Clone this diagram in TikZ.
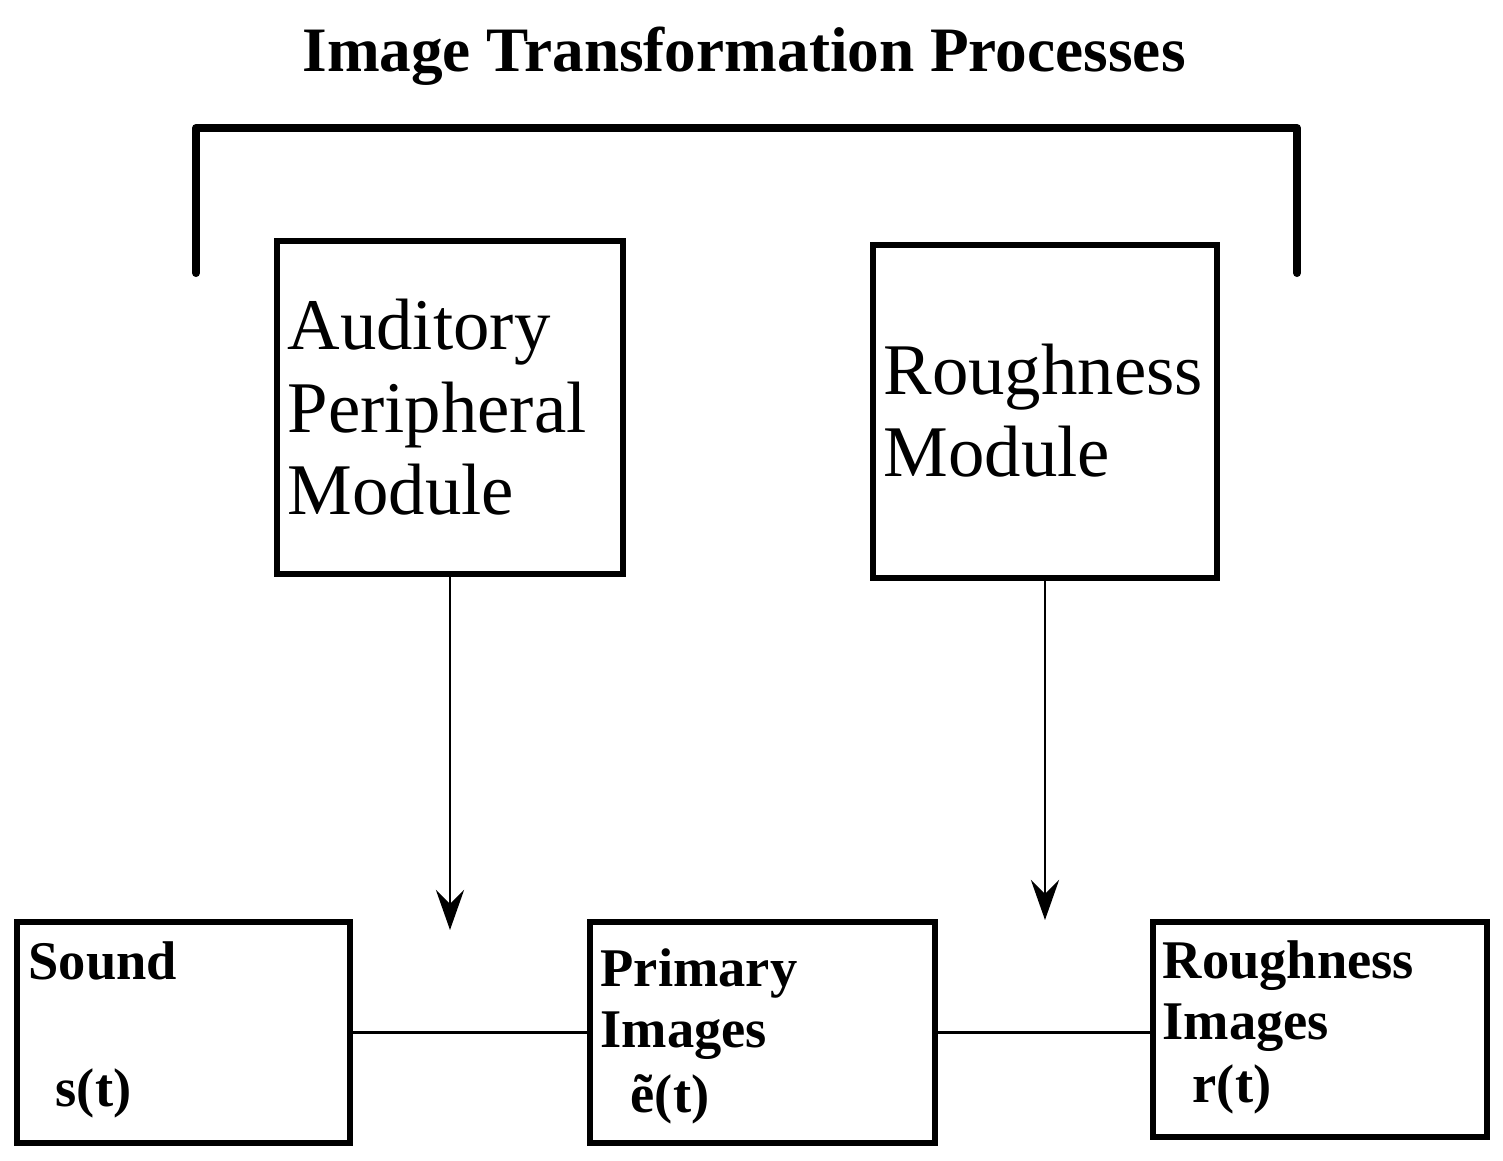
\documentclass[tikz,border=0pt]{standalone}
\usepackage{fontspec}
\setmainfont{Liberation Serif}
\usepackage{tikz}
\usetikzlibrary{positioning, arrows.meta}
\tikzstyle{module} = [rectangle, draw=black, line width=1.7pt, minimum width=3.46cm, minimum height=3.33cm]
\tikzstyle{image} = [rectangle, draw=black, line width=1.7pt, minimum width=3.34cm, minimum height=2.21cm]
\tikzstyle{modtext} = [inner sep=0pt, anchor=base west, align=left, font=\fontsize{20.7}{23.6}\selectfont]
\tikzstyle{imgtext} = [inner sep=0pt, anchor=base west, align=left, font=\fontsize{15.5}{17.4}\selectfont\bfseries]
\tikzstyle{arrow} = [line width=0.85pt,-{Stealth[length=11.4pt, width=8pt, inset=4pt]}]
\tikzstyle{line} = [line width=0.85pt]

\begin{document}
\begin{tikzpicture}
\useasboundingbox (0,0) rectangle (15.03,-11.61);

\node (title) [anchor=base, inner sep=0pt, font=\fontsize{18}{21}\selectfont\bfseries] at (7.44,-0.72) {Image Transformation Processes};
\draw [line width=2.3pt, line cap=round, line join=round] (1.96,-2.73) -- (1.96,-1.28) -- (12.97,-1.28) -- (12.97,-2.73);

% modules (base anchor sits on the last line)
\node (aux) [module] at (4.50,-4.075) {};
\node (auxtxt) [modtext] at (2.87,-5.15) {Auditory\\Peripheral\\Module};
\node (rmod) [module, minimum width=3.44cm] at (10.45,-4.115) {};
\node (rmodtxt) [modtext] at (8.83,-4.77) {Roughness\\Module};

% images
\node (sound) [image, minimum width=3.33cm] at (1.835,-10.325) {};
\node (soundtxt) [imgtext] at (0.28,-9.80) {Sound};
\node (stxt) [imgtext] at (0.55,-11.07) {s(t)};

\node (primary) [image, minimum width=3.45cm] at (7.625,-10.325) {};
\node (primarytxt) [imgtext] at (6.00,-10.48) {Primary\\Images};
\node (etxt) [imgtext] at (6.30,-11.13) {ẽ(t)};

\node (rimg) [image, minimum height=2.15cm] at (13.20,-10.295) {};
\node (rimgtxt) [imgtext] at (11.62,-10.40) {Roughness\\Images};
\node (rtxt) [imgtext] at (11.92,-11.03) {r(t)};

\coordinate (auxend) at (4.50,-9.30);
\coordinate (rmodend) at (10.45,-9.20);
\draw [arrow] (aux) -- (auxend);
\draw [arrow] (rmod) -- (rmodend);

\draw [line] (sound) -- (primary);
\draw [line] (primary.east) -- (primary.east -| rimg.west);

\end{tikzpicture}
\end{document}
